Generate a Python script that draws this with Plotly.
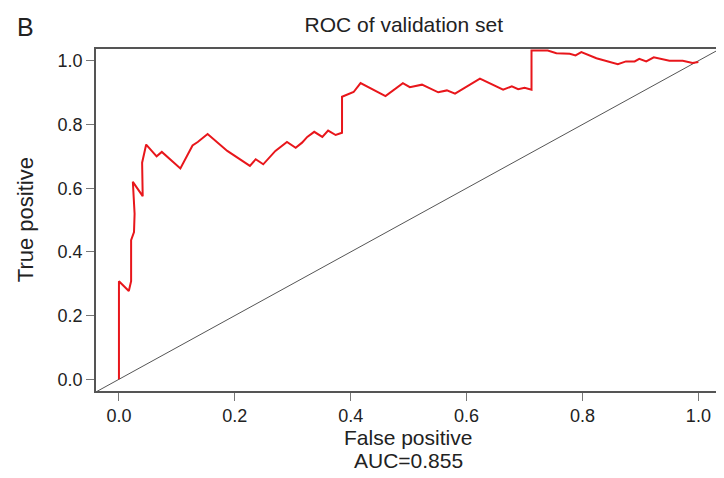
import plotly.graph_objects as go

# ROC curve points
fpr = [0.0, 0.0, 0.017, 0.021, 0.021, 0.026, 0.027, 0.024, 0.041, 0.040, 0.047,
       0.065, 0.074, 0.106, 0.127, 0.136, 0.153, 0.187, 0.226, 0.236, 0.249,
       0.270, 0.290, 0.305, 0.316, 0.325, 0.337, 0.351, 0.361, 0.374, 0.385,
       0.385, 0.405, 0.417, 0.460, 0.477, 0.490, 0.502, 0.523, 0.551, 0.566,
       0.580, 0.603, 0.623, 0.663, 0.678, 0.689, 0.700, 0.712, 0.712, 0.740,
       0.755, 0.778, 0.788, 0.798, 0.824, 0.861, 0.875, 0.890, 0.898, 0.910,
       0.923, 0.950, 0.973, 0.990, 1.0]
tpr = [0.0, 0.308, 0.277, 0.308, 0.437, 0.462, 0.520, 0.620, 0.575, 0.680, 0.737,
       0.700, 0.714, 0.662, 0.734, 0.745, 0.770, 0.717, 0.670, 0.691, 0.675,
       0.717, 0.745, 0.727, 0.743, 0.761, 0.777, 0.761, 0.781, 0.767, 0.774,
       0.887, 0.902, 0.930, 0.889, 0.912, 0.930, 0.917, 0.925, 0.901, 0.907,
       0.897, 0.922, 0.944, 0.909, 0.920, 0.911, 0.915, 0.909, 1.032, 1.032,
       1.024, 1.022, 1.017, 1.027, 1.008, 0.989, 0.998, 0.998, 1.006, 0.998,
       1.011, 1.000, 1.000, 0.993, 0.996]
auc = 0.855

x_range = [-0.0396, 1.0373]
y_range = [-0.0367, 1.037]

fig = go.Figure()
# chance line from corner to corner
fig.add_trace(go.Scatter(x=x_range, y=x_range, mode='lines',
                         line=dict(color='#555555', width=1), hoverinfo='skip'))
fig.add_trace(go.Scatter(x=fpr, y=tpr, mode='lines',
                         line=dict(color='#e8161b', width=2)))

axis_style = dict(showline=True, mirror=True, linecolor='#555555', linewidth=1.5,
                  ticks='outside', ticklen=8, tickcolor='#777777', tickwidth=1,
                  showgrid=False, zeroline=False, tickformat='.1f', dtick=0.2,
                  tickfont=dict(size=18, color='#222222'))

fig.update_layout(
    width=724, height=478,
    margin=dict(l=88, r=10, t=41, b=95),
    plot_bgcolor='white', paper_bgcolor='white',
    showlegend=False,
    font=dict(family='Liberation Sans, Arial, sans-serif', color='#222222'),
    title=dict(text='ROC of validation set', x=0.5467, xanchor='center',
               y=0.966, yanchor='middle', font=dict(size=21)),
    xaxis=dict(range=x_range, **axis_style),
    yaxis=dict(range=y_range, **axis_style),
)

fig.add_annotation(text='False positive', xref='paper', yref='paper',
                   x=0.5, y=-0.1374, showarrow=False, font=dict(size=21),
                   xanchor='center', yanchor='middle')
fig.add_annotation(text=f'AUC={auc}', xref='paper', yref='paper',
                   x=0.5, y=-0.2018, showarrow=False, font=dict(size=21),
                   xanchor='center', yanchor='middle')
fig.add_annotation(text='True positive', xref='paper', yref='paper',
                   x=-0.1134, y=0.5, showarrow=False, font=dict(size=22),
                   textangle=-90, xanchor='center', yanchor='middle')
fig.add_annotation(text='B', xref='paper', yref='paper',
                   x=-0.113, y=1.064, showarrow=False, font=dict(size=25),
                   xanchor='center', yanchor='middle')

fig.write_html("out.html")
